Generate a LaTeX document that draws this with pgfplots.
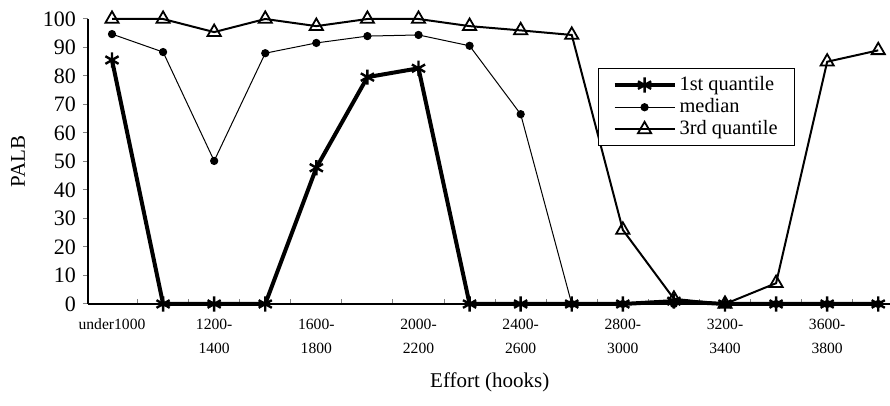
\documentclass[border=0pt]{standalone}
\usepackage{pgfplots}
\pgfplotsset{compat=1.18}
\usepackage{fontspec}
\setmainfont{Liberation Serif}
\begin{document}
\begin{tikzpicture}
\begin{axis}[
  name=ax,
  scale only axis,
  width=401pt, height=142.5pt,
  xmin=-0.47, xmax=15.23,
  ymin=0, ymax=100,
  axis lines=left,
  axis line style={-, line width=0.6pt},
  clip=false,
  tick align=inside,
  major tick length=2.5pt,
  ytick={0,10,20,30,40,50,60,70,80,90,100},
  ytick style={xshift=-2.5pt, line width=0.5pt},
  xtick style={line width=0.5pt},
  xtick={0.5,1.5,2.5,3.5,4.5,5.5,6.5,7.5,8.5,9.5,10.5,11.5,12.5,13.5,14.5},
  xticklabels={under1000,,{1200-\\1400},,{1600-\\1800},,{2000-\\2200},,{2400-\\2600},,{2800-\\3000},,{3200-\\3400},,{3600-\\3800},},
  xticklabel style={align=center, font=\fontsize{7.8}{12}\selectfont, xshift=-12.77pt, yshift=-4pt, anchor=north},
  yticklabel style={font=\fontsize{11}{12}\selectfont, xshift=-2.5pt, /pgf/number format/assume math mode=true},
  xlabel={Effort (hooks)},
  xlabel style={at={(axis description cs:0.501,-0.274)}, anchor=center, font=\fontsize{10.5}{12}\selectfont},
  ylabel={PALB},
  ylabel style={at={(axis description cs:-0.0873,0.5)}, anchor=center, font=\fontsize{10.5}{12}\selectfont},
  legend style={at={(axis description cs:0.636,0.828)}, anchor=north west, draw=black, line width=0.5pt,
    font=\fontsize{10.2}{12}\selectfont, inner xsep=7pt, inner ysep=2.5pt, row sep=-0.5pt,
    nodes={inner xsep=1.5pt, inner ysep=1.5pt}},
  legend cell align=left,
  legend image code/.code={\draw[mark repeat=2,mark phase=2] plot coordinates {(0pt,0pt)(15pt,0pt)(30pt,0pt)};},
]
\addplot[black, line width=2pt, mark=asterisk, mark size=3.8pt, mark options={line width=1.2pt}]
  coordinates {(0,85.6)(1,0)(2,0)(3,0)(4,47.8)(5,79.6)(6,82.7)(7,0)(8,0)(9,0)(10,0)(11,1)(12,0)(13,0)(14,0)(15,0)};
\addlegendentry{1st quantile}
\addplot[black, line width=0.5pt, mark=*, mark size=1.8pt]
  coordinates {(0,94.7)(1,88.4)(2,50.2)(3,88)(4,91.6)(5,94)(6,94.4)(7,90.6)(8,66.6)(9,0)(10,0)(11,0)(12,0)(13,0)(14,0)(15,0)};
\addlegendentry{median}
\addplot[black, line width=1pt, mark=triangle, mark size=3.8pt, mark options={line width=0.9pt, fill=white}]
  coordinates {(0,100)(1,100)(2,95.4)(3,100)(4,97.5)(5,100)(6,100)(7,97.5)(8,96)(9,94.4)(10,26)(11,1.8)(12,0)(13,7.3)(14,85)(15,89)};
\addlegendentry{3rd quantile}
\end{axis}
\pgfresetboundingbox
\path ([shift={(-44pt,-51pt)}]ax.south west) rectangle ([shift={(0pt,9.5pt)}]ax.north east);
\end{tikzpicture}
\end{document}
